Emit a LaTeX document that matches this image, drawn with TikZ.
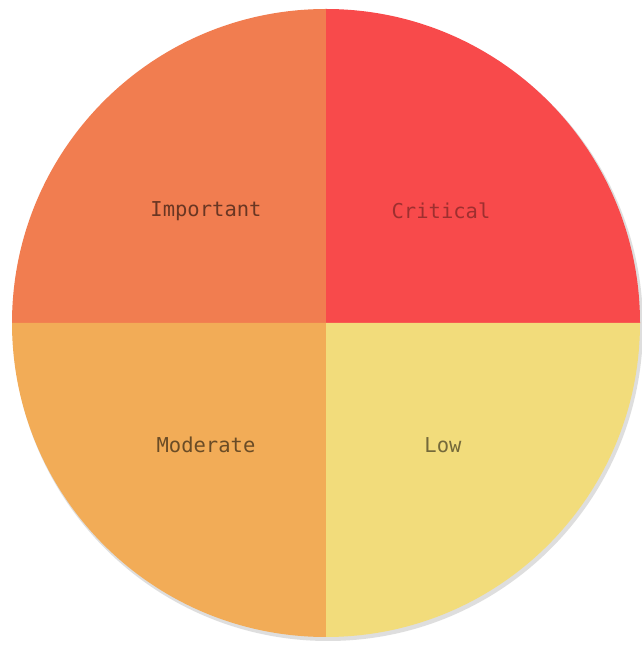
\documentclass[tikz,border=0pt]{standalone}
\usepackage{fontspec}
\newfontfamily\labelfont{DejaVu Sans Mono}
\definecolor{Important}{HTML}{F17D50}
\definecolor{Critical}{HTML}{F84A4B}
\definecolor{Moderate}{HTML}{F2AC57}
\definecolor{Low}{HTML}{F2DC7B}
\usetikzlibrary{positioning}

\begin{document}
\begin{tikzpicture}[
        x=1pt, y=1pt,
        every node/.style={
            font=\labelfont\fontsize{20.5}{20.5}\selectfont,
            text opacity=0.8
        }
    ]
        \useasboundingbox (0,0) rectangle (642,648);
        \fill[white] (0,0) rectangle (642,648);
        \coordinate (c) at (326,325);
        % soft shadow
        \fill[black!25, opacity=0.5] (328,322) circle (315);
        \fill[Important] (c) -- ++(180:314) arc (180:90:314) -- cycle;
        \fill[Critical] (c) -- ++(90:314) arc (90:0:314) -- cycle;
        \fill[Moderate] (c) -- ++(180:314) arc (180:270:314) -- cycle;
        \fill[Low] (c) -- ++(270:314) arc (270:360:314) -- cycle;
        \node[text=black!70!Important] (important) at (206,437) {Important};
        \node[text=black!45!Critical] (critical) at (441,437) {Critical};
        \node[text=black!70!Moderate] (moderate) at (206,203) {Moderate};
        \node[text=black!65!Low] (low) at (443,203) {Low};
    \end{tikzpicture}
\end{document}
